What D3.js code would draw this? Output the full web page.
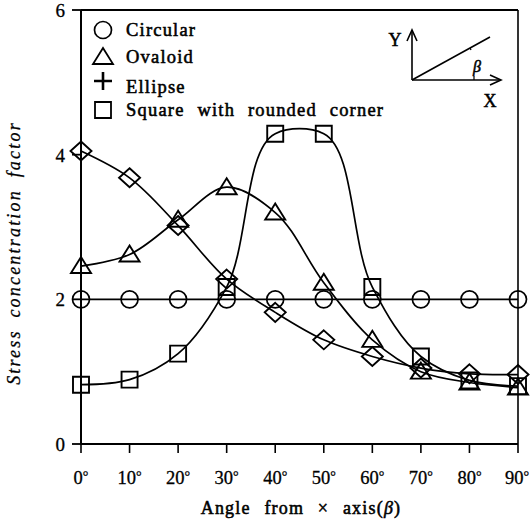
<!DOCTYPE html>
<html>
<head>
<meta charset="utf-8">
<script src="https://cdnjs.cloudflare.com/ajax/libs/d3/7.8.5/d3.min.js"></script>
<style>
  body { margin: 0; background: #fff; }
  svg { display: block; }
  text { font-family: "Liberation Serif", "Times New Roman", Tinos, "DejaVu Serif", serif; }
  .heavy { stroke: #000; stroke-width: 0.55; }
  .semi { stroke: #000; stroke-width: 0.3; }
</style>
</head>
<body>
<svg class="theSvg" width="531" height="522"></svg>
<script>
// data
var angles = [0, 10, 20, 30, 40, 50, 60, 70, 80, 90];
var circular = [2, 2, 2, 2, 2, 2, 2, 2, 2, 2];
var ovaloid = [2.46, 2.62, 3.1, 3.55, 3.2, 2.23, 1.44, 1.0, 0.85, 0.78];
var ellipse = [4.05, 3.68, 3.02, 2.28, 1.82, 1.44, 1.21, 1.05, 0.97, 0.96];
var square = [0.82, 0.89, 1.25, 2.17, 4.29, 4.29, 2.17, 1.21, 0.88, 0.8];

var xTicks = [0, 10, 20, 30, 40, 50, 60, 70, 80, 90];
var yTicks = [0, 2, 4, 6];
var legendNames = ["Circular", "Ovaloid", "Ellipse", "Square with rounded corner"];
var legendShapes = ["circle", "triangle", "plus", "square"];

var svg = d3.select(".theSvg");

var x = d3.scaleLinear().domain([0, 90]).range([81, 518]);
var y = d3.scaleLinear().domain([0, 6]).range([444, 10]);

// marker shapes
function shapePath(kind) {
	if (kind == "triangle") return "M0,-9 L10,7 L-10,7 Z";
	if (kind == "square") return "M-8,-8 L8,-8 L8,8 L-8,8 Z";
	if (kind == "diamond") return "M0,-9.5 L10.5,0 L0,9.5 L-10.5,0 Z";
	if (kind == "plus") return "M-9,0 L9,0 M0,-9 L0,9";
	return null;
}

// frame: top and right border, axes
var frame = svg.append("g").attr("stroke", "#000").attr("fill", "none");
frame.append("line").attr("x1", x(0)).attr("x2", x(90)).attr("y1", y(6)).attr("y2", y(6)).attr("stroke-width", 2.2);
frame.append("line").attr("x1", x(90)).attr("x2", x(90)).attr("y1", y(6)).attr("y2", y(0)).attr("stroke-width", 1.6);
frame.append("line").attr("x1", x(0)).attr("x2", x(0)).attr("y1", y(6)).attr("y2", y(0)).attr("stroke-width", 2);
frame.append("line").attr("x1", x(0)).attr("x2", x(90)).attr("y1", y(0)).attr("y2", y(0)).attr("stroke-width", 2);

// ticks
frame.selectAll(".xt").data(xTicks).enter().append("line")
	.attr("x1", function(d){ return x(d); })
	.attr("x2", function(d){ return x(d); })
	.attr("y1", y(0))
	.attr("y2", y(0) + 9)
	.attr("stroke-width", 1.6);

frame.selectAll(".yt").data(yTicks).enter().append("line")
	.attr("x1", x(0) - 9)
	.attr("x2", x(0))
	.attr("y1", function(d){ return y(d); })
	.attr("y2", function(d){ return y(d); })
	.attr("stroke-width", 1.8);

// y tick labels
svg.selectAll(".ylab").data(yTicks).enter().append("text")
	.attr("class", "semi")
	.attr("x", 65)
	.attr("y", function(d){ return y(d) + 7; })
	.attr("text-anchor", "end")
	.attr("font-size", 19)
	.text(function(d){ return d; });

// x tick labels
svg.selectAll(".xlab").data(xTicks).enter().append("text")
	.attr("class", "semi")
	.attr("x", function(d){ return x(d) - (d == 90 ? 1 : 0); })
	.attr("y", 484)
	.attr("text-anchor", "middle")
	.attr("font-size", 18.5)
	.html(function(d){ return d + "<tspan font-size='14' dy='-3'>\u00b0</tspan>"; });

// axis titles
svg.append("text")
	.attr("class", "heavy")
	.attr("x", 301)
	.attr("y", 514)
	.attr("text-anchor", "middle")
	.attr("font-size", 18)
	.attr("letter-spacing", 1.2)
	.attr("word-spacing", 8)
	.html("Angle from \u00d7 axis(<tspan font-style='italic'>\u03b2</tspan>)");

svg.append("text")
	.attr("class", "semi")
	.attr("transform", "translate(20,253) rotate(-90)")
	.attr("text-anchor", "middle")
	.attr("font-size", 18)
	.attr("font-style", "italic")
	.attr("letter-spacing", 2.2)
	.attr("word-spacing", 5)
	.text("Stress concentration factor");

// curves
var seriesList = [
	{name: "circular", values: circular, shape: "circle"},
	{name: "ovaloid", values: ovaloid, shape: "triangle"},
	{name: "ellipse", values: ellipse, shape: "diamond"},
	{name: "square", values: square, shape: "square"}
];

var line = d3.line()
	.x(function(d){ return x(d[0]); })
	.y(function(d){ return y(d[1]); })
	.curve(d3.curveCatmullRom.alpha(0.7));

var series = svg.selectAll(".series").data(seriesList).enter().append("g")
	.attr("class", "series");

series.append("path")
	.attr("d", function(s){ return line(angles.map(function(a, i){ return [a, s.values[i]]; })); })
	.attr("fill", "none")
	.attr("stroke", "#000")
	.attr("stroke-width", 1.7);

series.each(function(s){
	var pts = d3.select(this).selectAll(".pt")
		.data(angles.map(function(a, i){ return [a, s.values[i]]; }))
		.enter();
	if (s.shape == "circle") {
		pts.append("circle")
			.attr("cx", function(d){ return x(d[0]); })
			.attr("cy", function(d){ return y(d[1]); })
			.attr("r", 8.5)
			.attr("fill", "none")
			.attr("stroke", "#000")
			.attr("stroke-width", 1.7);
	} else {
		pts.append("path")
			.attr("transform", function(d){ return "translate(" + x(d[0]) + "," + y(d[1]) + ")"; })
			.attr("d", shapePath(s.shape))
			.attr("fill", "none")
			.attr("stroke", "#000")
			.attr("stroke-width", 1.9);
	}
});

// legend
var legendYs = [30, 57, 81, 110];
var textYs = [36, 63, 93, 116];
var legend = svg.selectAll(".leg").data(legendNames).enter().append("g");
legend.each(function(d, i){
	var g = d3.select(this);
	if (legendShapes[i] == "circle") {
		g.append("circle").attr("cx", 103).attr("cy", legendYs[i]).attr("r", 8.5)
			.attr("fill", "none").attr("stroke", "#000").attr("stroke-width", 1.7);
	} else {
		g.append("path").attr("transform", "translate(103," + legendYs[i] + ")")
			.attr("d", shapePath(legendShapes[i]))
			.attr("fill", "none").attr("stroke", "#000")
			.attr("stroke-width", legendShapes[i] == "plus" ? 2.6 : 1.8);
	}
	g.append("text")
		.attr("class", "heavy")
		.attr("x", 126)
		.attr("y", textYs[i])
		.attr("font-size", 18.5)
		.attr("letter-spacing", 1.2)
		.attr("word-spacing", 7)
		.text(d);
});

// inset with axes and angle beta
var inset = svg.append("g").attr("stroke", "#000").attr("fill", "none").attr("stroke-width", 1.6);
inset.append("line").attr("x1", 412).attr("y1", 80).attr("x2", 412).attr("y2", 31);
inset.append("path").attr("d", "M407,41 L412,30 L417,41");
inset.append("line").attr("x1", 412).attr("y1", 80).attr("x2", 500).attr("y2", 80);
inset.append("path").attr("d", "M490,75 L501,80 L490,85");
inset.append("line").attr("x1", 412).attr("y1", 80).attr("x2", 490).attr("y2", 37);
inset.append("path").attr("d", "M470,48 L471,50").attr("stroke-width", 1.2);
inset.append("path").attr("d", "M474,76 L474,80").attr("stroke-width", 1.2);

svg.append("text").attr("class", "heavy").attr("x", 395).attr("y", 46).attr("text-anchor", "middle")
	.attr("font-size", 18).text("Y");
svg.append("text").attr("class", "heavy").attr("x", 490).attr("y", 107).attr("text-anchor", "middle")
	.attr("font-size", 18).text("X");
svg.append("text").attr("class", "heavy").attr("x", 477).attr("y", 72).attr("text-anchor", "middle")
	.attr("font-size", 16).attr("font-style", "italic").text("\u03b2");
</script>
</body>
</html>
